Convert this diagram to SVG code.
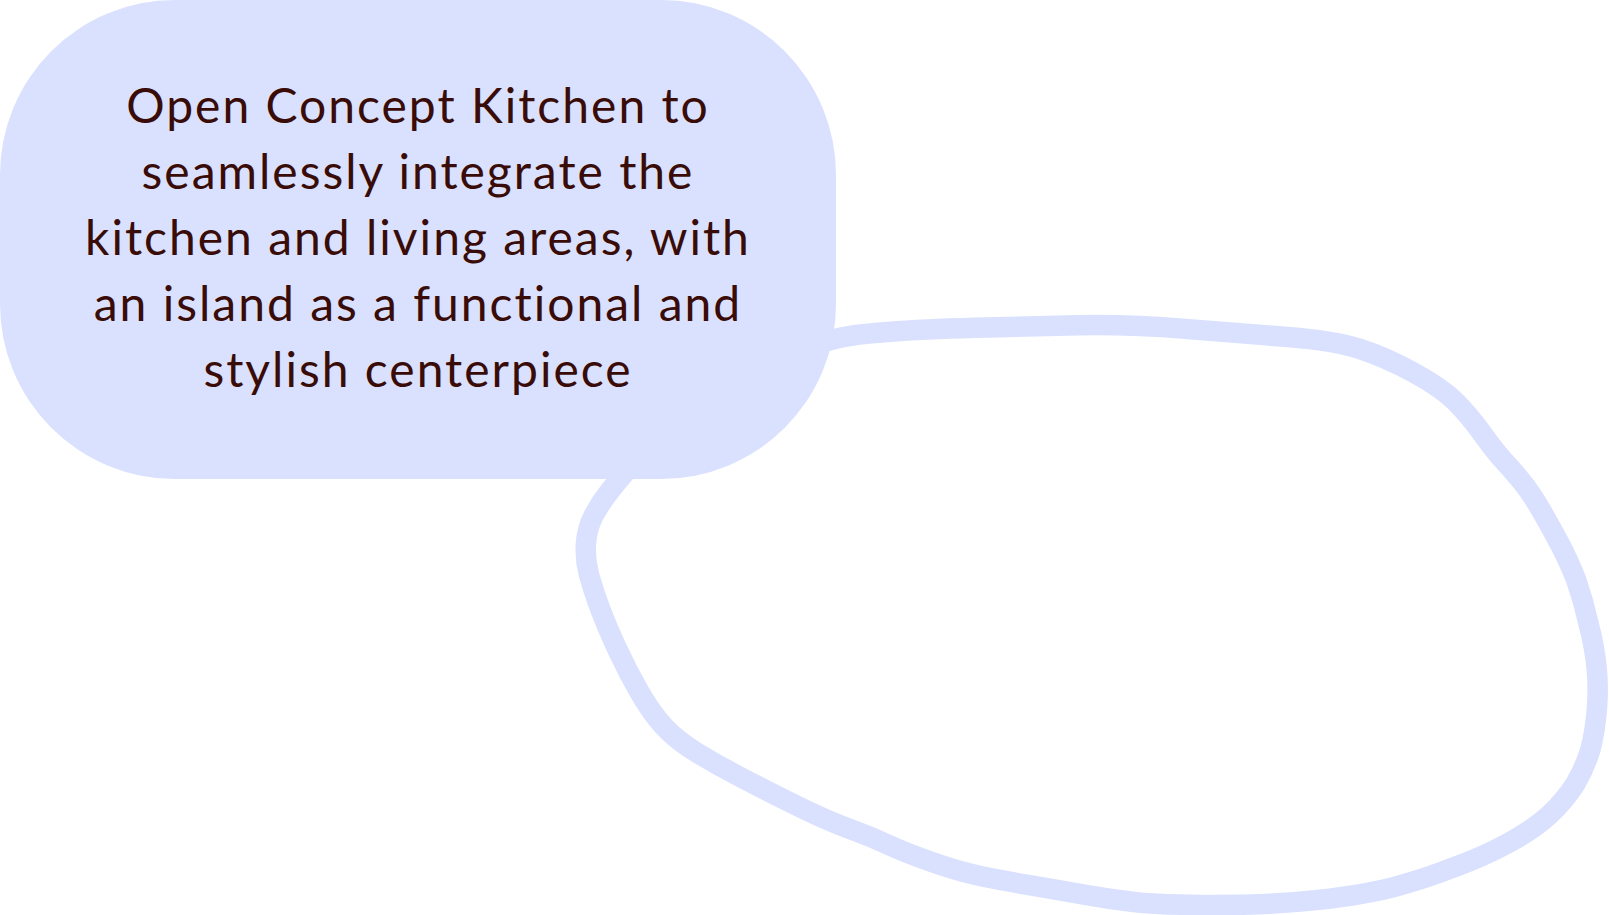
<svg xmlns="http://www.w3.org/2000/svg" width="1609" height="915" viewBox="0 0 1609 915">
<style>
.blob{fill:none;stroke:#D9E1FE;stroke-width:20;stroke-linecap:round;stroke-linejoin:round}
.box{fill:#D9E1FE}
.t{font-family:Lato,"Noto Sans",sans-serif;font-size:48px;fill:#3A0C08;text-anchor:middle;letter-spacing:2px}
</style>
<rect width="1609" height="915" fill="#FFFFFF"/>
<g id="connectors" transform="scale(1.02614)">
<path class="blob" d="M800,334 L815,330 Q830,326 865,323.5 Q900,321 950,319.5 Q1000,318 1050,317 Q1100,316 1155,320.5 Q1210,325 1255,328.5 Q1300,332 1325,340 Q1350,348 1377.5,363 Q1405,378 1418.5,391.5 Q1432,405 1444.5,422.5 Q1457,440 1464.5,448 Q1472,456 1482,468 Q1492,480 1502,497.5 Q1512,515 1520,530 Q1528,545 1536,565 Q1543,585 1548,607.5 Q1554,630 1556,651 Q1558,672 1556,693.5 Q1554,715 1550,730 Q1545,747 1535.5,763.5 Q1525,780 1510,794 Q1495,808 1470,821.5 Q1445,835 1417.5,845 Q1390,856 1360,864 Q1330,872 1285,877 Q1240,882 1185,882 Q1130,882 1105,879 Q1080,876 1055,871.5 Q1030,867 1000,862 Q970,857 950,852.5 Q930,848 905,839 Q880,830 865,823 Q850,816 835,810.5 Q820,805 805,798.5 Q790,792 765,779.5 Q740,767 720,756.5 Q700,746 680,734 Q660,722 647.5,708.5 Q635,695 623.5,675 Q612,655 602,633.5 Q592,612 585,593.5 Q578,575 574,560 Q570,545 571,530 Q572,515 578.5,502.5 Q585,490 595,477.5 Q605,465 612.5,456.5 L620,448"/>
</g>
<g id="node-kitchen">
<rect class="box" x="0" y="0" width="836" height="479" rx="175" ry="175"/>
<text class="t" x="418" y="123">Open Concept Kitchen to</text>
<text class="t" x="418" y="189">seamlessly integrate the</text>
<text class="t" x="418" y="255">kitchen and living areas, with</text>
<text class="t" x="418" y="321">an island as a functional and</text>
<text class="t" x="418" y="387">stylish centerpiece</text>
</g>
</svg>
